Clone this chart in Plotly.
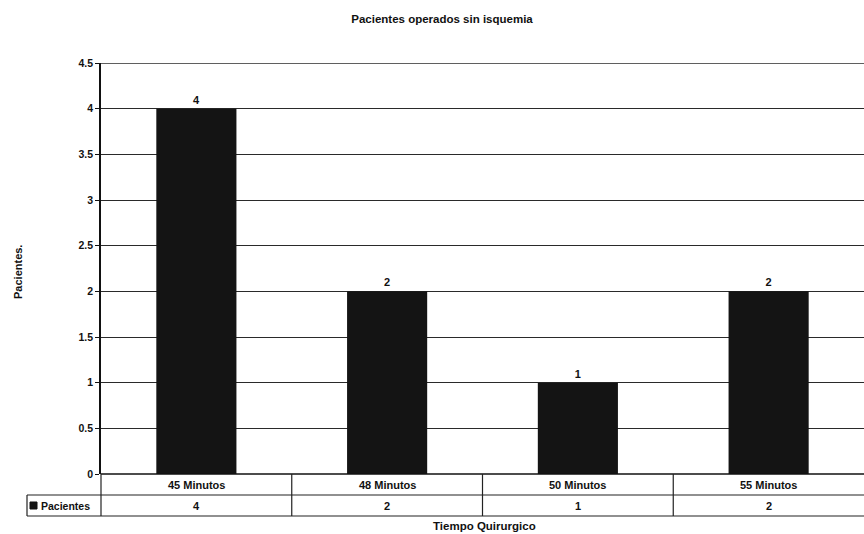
import plotly.graph_objects as go

categories = ["45 Minutos", "48 Minutos", "50 Minutos", "55 Minutos"]
values = [4, 2, 1, 2]
series_name = "Pacientes"
y_ticks = [0, 0.5, 1, 1.5, 2, 2.5, 3, 3.5, 4, 4.5]
y_tick_labels = ["0", "0.5", "1", "1.5", "2", "2.5", "3", "3.5", "4", "4.5"]

W, H = 864, 534
ML, MR, MT, MB = 101, 0, 63, 60
PW, PH = W - ML - MR, H - MT - MB
FONT = "Liberation Sans"
bar_color = "#141414"

def px_x(px):
    return (px - ML) / PW

def px_y(py):
    return (H - MB - py) / PH

fig = go.Figure()
fig.add_trace(go.Bar(
    x=list(range(len(categories))), y=values, name=series_name,
    marker=dict(color=bar_color, line=dict(width=0)),
    width=0.42,
    text=[f"<b>{v}</b>" for v in values], textposition="outside",
    textfont=dict(family=FONT, size=11, color="#111"),
    cliponaxis=False,
))

fig.update_layout(
    width=W, height=H,
    margin=dict(l=ML, r=MR, t=MT, b=MB),
    paper_bgcolor="white", plot_bgcolor="white",
    showlegend=False,
    title=dict(text="<b>Pacientes operados sin isquemia</b>", x=442 / W, xanchor="center",
               y=1 - 19 / H, yanchor="middle", font=dict(family=FONT, size=11.5, color="#111")),
)
fig.update_xaxes(range=[-0.5, len(categories) - 0.5], showticklabels=False, showgrid=False,
                 zeroline=False, showline=False, ticks="")
fig.update_yaxes(range=[0, 4.5], tickvals=y_ticks, ticktext=[f"<b>{t}</b>" for t in y_tick_labels],
                 showgrid=True, gridcolor="#2a2a2a", gridwidth=1.4,
                 showline=True, linecolor="#111", linewidth=1.5,
                 ticks="outside", ticklen=4, tickcolor="#111", tickwidth=1.2,
                 zeroline=False, tickfont=dict(family=FONT, size=10.5, color="#111"))

shapes = []
line = dict(color="#222", width=1.2)
row1_top = 0
row1_bot = px_y(495)
row2_bot = px_y(516)
left_px = px_x(27)
# top gridline at 4.5
shapes.append(dict(type="line", xref="paper", yref="y", x0=0, x1=1, y0=y_ticks[-1], y1=y_ticks[-1],
                   line=dict(color="#2a2a2a", width=1.4)))
# horizontal table lines
shapes.append(dict(type="line", xref="paper", yref="paper", x0=0, x1=1, y0=0, y1=0, line=dict(color="#111", width=1.5)))
shapes.append(dict(type="line", xref="paper", yref="paper", x0=left_px, x1=1, y0=row1_bot, y1=row1_bot, line=line))
shapes.append(dict(type="line", xref="paper", yref="paper", x0=left_px, x1=1, y0=row2_bot, y1=row2_bot, line=line))
# vertical lines
shapes.append(dict(type="line", xref="paper", yref="paper", x0=left_px, x1=left_px, y0=row1_bot, y1=row2_bot, line=line))
shapes.append(dict(type="line", xref="paper", yref="paper", x0=0, x1=0, y0=row1_top, y1=row2_bot, line=line))
for i in range(1, len(categories)):
    shapes.append(dict(type="line", xref="x", yref="paper", x0=i - 0.5, x1=i - 0.5,
                       y0=row1_top, y1=row2_bot, line=line))
# legend key square
shapes.append(dict(type="rect", xref="paper", yref="paper",
                   x0=px_x(30), x1=px_x(37), y0=px_y(509), y1=px_y(502),
                   fillcolor=bar_color, line=dict(color="#111", width=1)))
fig.update_layout(shapes=shapes)

annotations = []
tfont = dict(family=FONT, size=11, color="#111")
for i, (c, v) in enumerate(zip(categories, values)):
    annotations.append(dict(x=i, y=(row1_top + row1_bot) / 2, xref="x", yref="paper",
                            text=f"<b>{c}</b>", showarrow=False, font=tfont,
                            xanchor="center", yanchor="middle"))
    annotations.append(dict(x=i, y=(row1_bot + row2_bot) / 2, xref="x", yref="paper",
                            text=f"<b>{v}</b>", showarrow=False, font=tfont,
                            xanchor="center", yanchor="middle"))
annotations.append(dict(x=px_x(39), y=(row1_bot + row2_bot) / 2, xref="paper", yref="paper",
                        text=f"<b>{series_name}</b>", showarrow=False,
                        font=dict(family=FONT, size=10.5, color="#111"),
                        xanchor="left", yanchor="middle"))
annotations.append(dict(x=px_x(484), y=px_y(526), xref="paper", yref="paper",
                        text="<b>Tiempo Quirurgico</b>", showarrow=False,
                        font=dict(family=FONT, size=11.5, color="#111"),
                        xanchor="center", yanchor="middle"))
annotations.append(dict(x=px_x(18), y=px_y(272), xref="paper", yref="paper",
                        text="<b>Pacientes.</b>", showarrow=False, font=tfont, textangle=-90,
                        xanchor="center", yanchor="middle"))
fig.update_layout(annotations=annotations)

fig.write_html("out.html", config={"displayModeBar": False},
               post_script="document.body.style.margin='0';document.body.style.overflow='hidden';")
